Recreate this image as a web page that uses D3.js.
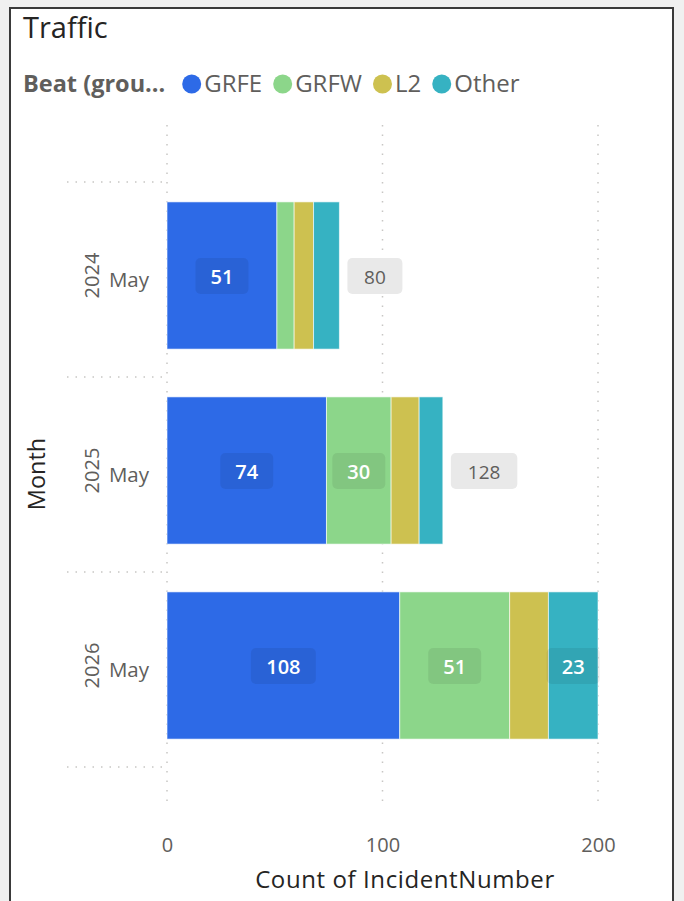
<!DOCTYPE html>
<html>
<head>
<meta charset="utf-8">
<script src="https://cdn.jsdelivr.net/npm/d3@7"></script>
<style>
  body { margin: 0; background: #f0f0f0; }
  svg { display: block; font-family: "Segoe UI", "Open Sans", sans-serif; }
</style>
</head>
<body>
<div id="chart"></div>
<script>
// data
var months = ["2024", "2025", "2026"];
var monthNames = ["May", "May", "May"];
var beats = ["GRFE", "GRFW", "L2", "Other"];
var grfe = [51, 74, 108];
var grfw = [8, 30, 51];
var l2 = [9, 13, 18];
var other = [12, 11, 23];
var xTicks = [0, 100, 200];
var colors = ["#2d6ae7", "#8cd68a", "#cdc150", "#36b2c2"];

var width = 684, height = 901;
var svg = d3.select("#chart").append("svg")
  .attr("width", width)
  .attr("height", height);

// card
svg.append("rect")
  .attr("x", 10).attr("y", 8)
  .attr("width", 663).attr("height", 900)
  .attr("fill", "#fff")
  .attr("stroke", "#3a3a3a")
  .attr("stroke-width", 2);

svg.append("text")
  .attr("x", 23).attr("y", 38)
  .attr("font-size", 29)
  .attr("fill", "#252423")
  .text("Traffic");

// legend
var legend = svg.append("g").attr("transform", "translate(23,92)");
var lt = legend.append("text")
  .attr("font-size", 23.5)
  .attr("font-weight", "bold")
  .attr("fill", "#605e5c")
  .text("Beat (grou...");
var lx = lt.node().getComputedTextLength() + 17;
beats.forEach(function(b, i) {
  legend.append("circle")
    .attr("cx", lx + 9.5).attr("cy", -8).attr("r", 9.5)
    .attr("fill", colors[i]);
  var t = legend.append("text")
    .attr("x", lx + 22)
    .attr("font-size", 24)
    .attr("fill", "#605e5c")
    .text(b);
  lx += 22 + t.node().getComputedTextLength() + 11;
});

var rows = months.map(function(m, i) {
  return {month: m, name: monthNames[i], GRFE: grfe[i], GRFW: grfw[i], L2: l2[i], Other: other[i]};
});
var stack = d3.stack().keys(beats)(rows);

var x = d3.scaleLinear().domain([0, 200]).range([167, 598]);
var y = d3.scaleBand().domain(months).range([178, 763]).paddingInner(0.245).paddingOuter(0.1225);

// gridlines
svg.append("g").selectAll("line")
  .data(xTicks)
  .enter().append("line")
  .attr("x1", function(d) { return x(d); })
  .attr("x2", function(d) { return x(d); })
  .attr("y1", 125).attr("y2", 802)
  .attr("stroke", "#c8c6c4")
  .attr("stroke-width", 1.5)
  .attr("stroke-dasharray", "1.5,8");

// category separators
var seps = months.map(function(m) { return y(m) - y.step() * y.paddingInner() / 2 + 4; });
seps.push(y(months[2]) + y.bandwidth() + y.step() * y.paddingInner() / 2 + 4);
svg.append("g").selectAll("line")
  .data(seps)
  .enter().append("line")
  .attr("x1", 67).attr("x2", 167)
  .attr("y1", function(d) { return d; })
  .attr("y2", function(d) { return d; })
  .attr("stroke", "#c8c6c4")
  .attr("stroke-width", 1.5)
  .attr("stroke-dasharray", "1.5,7");

// bars
var layers = svg.append("g").selectAll("g")
  .data(stack)
  .enter().append("g")
  .attr("fill", function(d, i) { return colors[i]; });

layers.selectAll("rect")
  .data(function(d) { return d; })
  .enter().append("rect")
  .attr("x", function(d) { return x(d[0]); })
  .attr("y", function(d) { return y(d.data.month); })
  .attr("width", function(d) { return x(d[1]) - x(d[0]); })
  .attr("height", y.bandwidth())
  .attr("stroke", "rgba(255,255,255,0.6)")
  .attr("stroke-width", 1);

// segment labels, only where they fit
layers.each(function(layer) {
  var g = d3.select(this);
  layer.forEach(function(d) {
    var w = x(d[1]) - x(d[0]);
    if (w < 45) return;
    var cx = (x(d[0]) + x(d[1])) / 2;
    var cy = y(d.data.month) + y.bandwidth() / 2;
    var val = d[1] - d[0];
    var bw = String(val).length * 12 + 29;
    g.append("rect")
      .attr("x", cx - bw / 2).attr("y", cy - 17.5)
      .attr("width", bw).attr("height", 36)
      .attr("rx", 5)
      .attr("fill", "rgba(0,0,0,0.07)");
    g.append("text")
      .attr("x", cx).attr("y", cy + 8)
      .attr("text-anchor", "middle")
      .attr("font-size", 20)
      .attr("font-weight", 600)
      .attr("fill", "#fff")
      .text(val);
  });
});

// totals (the 200 one sits off the edge and is not shown)
rows.forEach(function(r) {
  var tot = r.GRFE + r.GRFW + r.L2 + r.Other;
  if (x(tot) + 60 > 598) return;
  var bw = String(tot).length * 11.5 + 32;
  var bx = x(tot) + 8;
  var cy = y(r.month) + y.bandwidth() / 2;
  svg.append("rect")
    .attr("x", bx).attr("y", cy - 17.5)
    .attr("width", bw).attr("height", 36)
    .attr("rx", 5)
    .attr("fill", "#e9e9e9");
  svg.append("text")
    .attr("x", bx + bw / 2).attr("y", cy + 8)
    .attr("text-anchor", "middle")
    .attr("font-size", 19)
    .attr("fill", "#605e5c")
    .text(tot);
});

// y labels
var yl = svg.append("g");
months.forEach(function(m, i) {
  var cy = y(m) + y.bandwidth() / 2;
  yl.append("text")
    .attr("transform", "translate(99," + cy + ") rotate(-90)")
    .attr("text-anchor", "middle")
    .attr("font-size", 20)
    .attr("fill", "#605e5c")
    .text(m);
  yl.append("text")
    .attr("x", 149).attr("y", cy + 11)
    .attr("text-anchor", "end")
    .attr("font-size", 20.5)
    .attr("fill", "#605e5c")
    .text(monthNames[i]);
});

svg.append("text")
  .attr("transform", "translate(45,474) rotate(-90)")
  .attr("text-anchor", "middle")
  .attr("font-size", 23.5)
  .attr("font-weight", 500)
  .attr("fill", "#252423")
  .text("Month");

// x axis
var xAxis = svg.append("g")
  .attr("transform", "translate(0,838)")
  .call(d3.axisBottom(x).tickValues(xTicks).tickSize(0).tickPadding(0));
xAxis.select(".domain").remove();
xAxis.selectAll("text")
  .attr("font-family", "Segoe UI, Open Sans, sans-serif")
  .attr("font-size", 20)
  .attr("fill", "#605e5c");

svg.append("text")
  .attr("x", 405).attr("y", 888)
  .attr("text-anchor", "middle")
  .attr("font-size", 24)
  .attr("letter-spacing", 0.6)
  .attr("fill", "#252423")
  .text("Count of IncidentNumber");
</script>
</body>
</html>
